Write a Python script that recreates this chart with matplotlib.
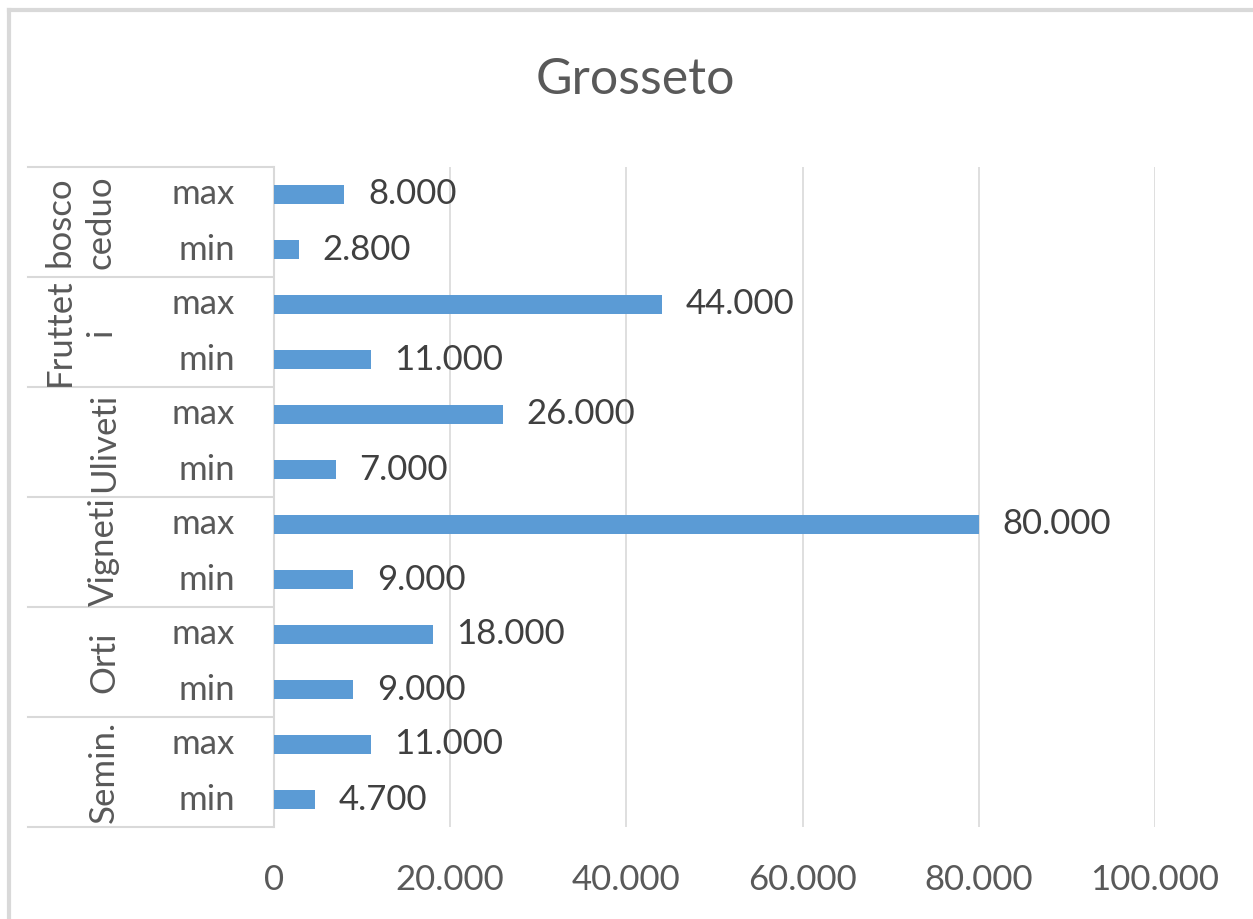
import matplotlib
matplotlib.use("Agg")
from matplotlib import pyplot as plt
from matplotlib import transforms
from matplotlib.lines import Line2D
from matplotlib.ticker import FuncFormatter

# data, bottom to top as drawn
groups = ["Semin.", "Orti", "Vigneti", "Uliveti", "Fruttet\ni", "bosco\nceduo"]
sub_labels = ["min", "max"]
min_vals = [4700, 9000, 9000, 7000, 11000, 2800]
max_vals = [11000, 18000, 80000, 26000, 44000, 8000]
x_ticks = [0, 20000, 40000, 60000, 80000, 100000]

W, H = 1253, 919
plt.rcParams['font.family'] = ['Lato', 'DejaVu Sans']

bar_color = '#5b9bd5'
grid_color = '#d9d9d9'
text_color = '#595959'
label_color = '#404040'


def fmt_it(v, pos=None):
    return f"{int(v):,}".replace(",", ".")


fig = plt.figure(figsize=(W / 100, H / 100), dpi=100)
ax = fig.add_axes([274 / W, (H - 827) / H, (1155 - 274) / W, 660 / H])

# interleave min/max rows
values = []
for lo, hi in zip(min_vals, max_vals):
    values.append(lo)
    values.append(hi)
rows = list(range(len(values)))

ax.barh(rows, values, height=0.33, color=bar_color, zorder=3)
for r, v in zip(rows, values):
    ax.annotate(fmt_it(v), xy=(v, r), xytext=(17, 0), textcoords='offset points',
                va='center', ha='left', fontsize=25, color=label_color)

ax.set_xlim(0, 100000)
ax.set_ylim(-0.5, len(values) - 0.5)
ax.set_xticks(x_ticks)
ax.xaxis.set_major_formatter(FuncFormatter(fmt_it))
ax.tick_params(axis='x', length=0, pad=27, labelsize=25, labelcolor=text_color)
ax.set_yticks([])
ax.grid(axis='x', color=grid_color, linewidth=1.2, zorder=0)
for s in ['top', 'right', 'bottom']:
    ax.spines[s].set_visible(False)
ax.spines['left'].set_color(grid_color)
ax.spines['left'].set_linewidth(1.5)

# category axis: sub labels, group labels, separators
tr = transforms.blended_transform_factory(fig.transFigure, ax.transData)
for r in rows:
    ax.text(235 / W, r, sub_labels[r % 2], transform=tr, ha='right', va='center',
            fontsize=25, color=text_color)
for i, g in enumerate(groups):
    xc = 80 if "\n" in g else 104
    ax.text(xc / W, 2 * i + 0.5, g, transform=tr, rotation=90, ha='center', va='center',
            multialignment='center', fontsize=25, color=text_color, linespacing=1.35)
for k in range(len(groups) + 1):
    y = 2 * k - 0.5
    ax.add_line(Line2D([28 / W, 273 / W], [y, y], transform=tr, color=grid_color,
                       linewidth=1.5, clip_on=False))

# title and chart border
fig.text(635 / W, (H - 80) / H, "Grosseto", ha='center', va='center', fontsize=36,
         color=text_color)
fig.add_artist(Line2D([9 / W, 1], [1 - 10 / H, 1 - 10 / H], color=grid_color, linewidth=3))
fig.add_artist(Line2D([9 / W, 9 / W], [0, 1 - 10 / H], color=grid_color, linewidth=3))

fig.savefig("out.png", dpi=100)
